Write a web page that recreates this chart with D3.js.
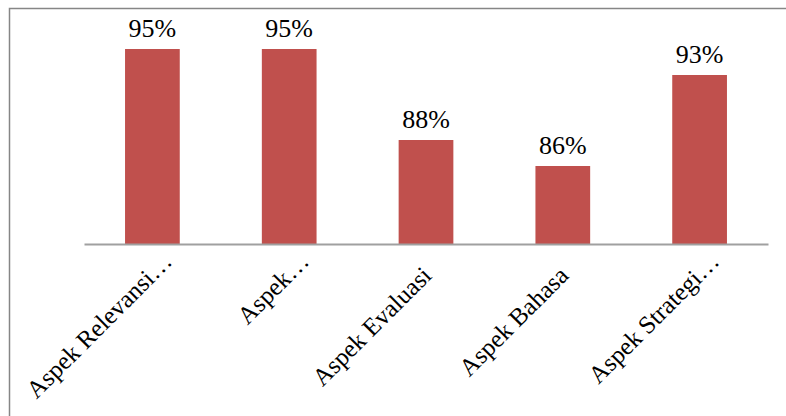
<!DOCTYPE html>
<html><head><meta charset="utf-8">
<script src="https://cdn.jsdelivr.net/npm/d3@7"></script>
<style>body{margin:0;background:#fff}svg{display:block}</style>
</head><body>
<script>
const categories = ["Aspek Relevansi…", "Aspek…", "Aspek Evaluasi", "Aspek Bahasa", "Aspek Strategi…"];
const values = [95, 95, 88, 86, 93];
const valueLabels = ["95%", "95%", "88%", "86%", "93%"];

const W = 786, H = 416;
const svg = d3.select("body").append("svg").attr("width", W).attr("height", H);

svg.append("rect").attr("x", 9.5).attr("y", 8.5).attr("width", 820).attr("height", 440)
  .attr("fill", "none").attr("stroke", "#868686").attr("stroke-width", 1.5);

const x = d3.scaleBand().domain(categories).range([84, 768]).paddingInner(0.6).paddingOuter(0.3);
const y = d3.scaleLinear().domain([80, 100]).range([244, -16]);
const font = "'Liberation Serif', 'DejaVu Serif', serif";

svg.selectAll("rect.bar").data(values).join("rect").attr("class", "bar")
  .attr("x", (d, i) => x(categories[i]))
  .attr("width", x.bandwidth())
  .attr("y", d => y(d))
  .attr("height", d => y(80) - y(d))
  .attr("fill", "#C0504D");

svg.selectAll("text.val").data(values).join("text").attr("class", "val")
  .attr("x", (d, i) => x(categories[i]) + x.bandwidth() / 2)
  .attr("y", d => y(d) - 12)
  .attr("text-anchor", "middle")
  .attr("font-family", font).attr("font-size", 26).attr("fill", "#000")
  .text((d, i) => valueLabels[i]);

const xAxis = d3.axisBottom(x).tickSize(0).tickPadding(0);
const gx = svg.append("g").attr("transform", `translate(0,${y(80)})`).call(xAxis);
gx.attr("font-family", font);
gx.select(".domain").attr("stroke", "#a0a0a0").attr("stroke-width", 2);
gx.selectAll(".tick text")
  .attr("font-family", font).attr("font-size", 25).attr("fill", "#000")
  .attr("text-anchor", "end")
  .attr("dy", null).attr("y", 0)
  .attr("dx", d => d.endsWith("…") ? 20 : 0)
  .attr("transform", "translate(7,33) rotate(-45)");
</script>
</body></html>
